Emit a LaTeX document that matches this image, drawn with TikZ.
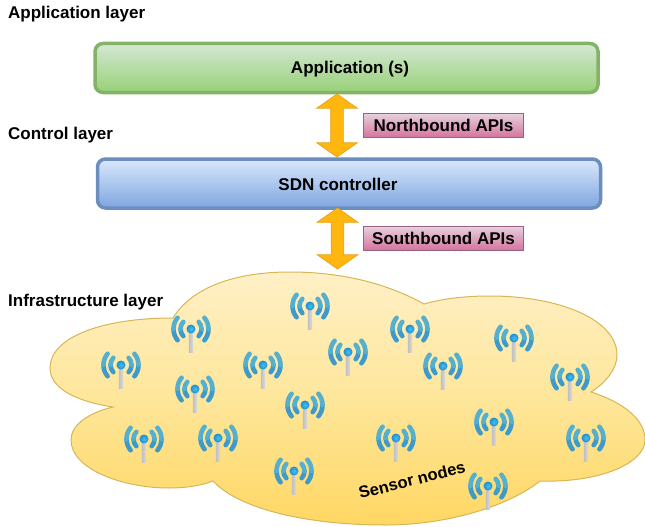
\documentclass[tikz,border=0pt]{standalone}
\usepackage{fontspec}
\setmainfont{Liberation Sans}
\usetikzlibrary{shapes.arrows}
\definecolor{gTop}{HTML}{D5E8D4}\definecolor{gBot}{HTML}{97D077}\definecolor{gLine}{HTML}{82B366}
\definecolor{bTop}{HTML}{DAE8FC}\definecolor{bBot}{HTML}{7EA6E0}\definecolor{bLine}{HTML}{6C8EBF}
\definecolor{pTop}{HTML}{E6D0DE}\definecolor{pBot}{HTML}{D5739D}\definecolor{pLine}{HTML}{996185}
\definecolor{yTop}{HTML}{FFF0C6}\definecolor{yMid}{HTML}{FEE69A}\definecolor{yBot}{HTML}{FFD763}\definecolor{yLine}{HTML}{D6B656}
\definecolor{oFill}{HTML}{FFB60F}\definecolor{oLine}{HTML}{E6A317}
\definecolor{waveA}{HTML}{55B0D0}\definecolor{waveB}{HTML}{3D9ACB}
\definecolor{dotA}{HTML}{45BDF0}\definecolor{dotB}{HTML}{1F8FD0}
\newcommand{\lblfont}{\fontsize{17}{19}\selectfont\bfseries}
\tikzset{
  x=1pt,y=-1pt,
  layerlabel/.style={anchor=west,inner sep=0pt,font=\lblfont},
  boxtext/.style={rounded corners=8pt,line width=3.5pt,minimum height=49pt,inner sep=0pt,outer sep=0pt},
  appbox/.style={boxtext,draw=gLine,top color=gTop,bottom color=gBot},
  ctlbox/.style={boxtext,draw=bLine,top color=bTop,bottom color=bBot},
  apibox/.style={draw=pLine,line width=1pt,top color=pTop,bottom color=pBot,minimum width=160pt,minimum height=24pt,inner sep=0pt,font=\lblfont},
  updown/.style={double arrow,draw=oLine,fill=oFill,line width=.7pt,minimum width=40pt,text height=12pt,text depth=0pt,text width=1pt,double arrow head extend=14pt,double arrow tip angle=110,inner sep=0pt,rotate=90},
  wave/.style={line width=4.6pt,line cap=round},
  sensor/.pic={
    \shade[left color=black!25,right color=black!14] (-2.2,3) rectangle (2.2,23);
    \foreach \s in {1,-1}{
      \begin{scope}[xscale=\s]
      \draw[wave,waveB] (10.5,0) arc[start angle=0,end angle=-43,radius=10.5pt];
      \draw[wave,waveA] (10.5,0) arc[start angle=0,end angle=43,radius=10.5pt];
      \draw[wave,waveB] (17.5,0) arc[start angle=0,end angle=-40,radius=17.5pt];
      \draw[wave,waveA] (17.5,0) arc[start angle=0,end angle=40,radius=17.5pt];
      \end{scope}
    }
    \shade[inner color=dotA,outer color=dotB] (0,0) circle[radius=4.5pt];
  }
}
\begin{document}
\begin{tikzpicture}
\useasboundingbox (0,0) rectangle (645,527);
\shade[top color=yTop,bottom color=yBot,middle color=yMid,draw=yLine,line width=1pt]
  (173,318) .. controls (100,318) and (50,338) .. (50,368)
  .. controls (50,390) and (80,402) .. (113,407)
  .. controls (88,413) and (71,425) .. (71,440)
  .. controls (71,470) and (125,488) .. (168,488)
  .. controls (185,488) and (200,486) .. (213,481)
  .. controls (240,510) and (310,525) .. (385,525)
  .. controls (450,525) and (510,505) .. (540,481)
  .. controls (600,483) and (645,463) .. (645,440)
  .. controls (645,420) and (625,403) .. (591,392)
  .. controls (607,382) and (617,368) .. (617,355)
  .. controls (617,320) and (560,296) .. (490,296)
  .. controls (468,296) and (445,298) .. (424,304)
  .. controls (390,285) and (345,272) .. (290,272)
  .. controls (230,272) and (190,290) .. (173,318) -- cycle;
\foreach \px/\py in {310/306,191/329,410/329,514/338,348/352,263/365,443/366,121/365,570/377,195/389,305/405,494/422,144/439,218/438,396/438,586/438,294/471,488/486}
  \pic at (\px,\py) {sensor};
\node[appbox,minimum width=503pt] (app) at (346.5,68) {};
\node[ctlbox,minimum width=503pt] (ctl) at (349,183.5) {};
\node[font=\lblfont,inner sep=0pt] (apptext) at (350,69.5) {Application (s)};
\node[font=\lblfont,inner sep=0pt] (ctltext) at (338,184) {SDN controller};
\node[updown,minimum height=63pt] (northarrow) at (337,125.5) {};
\node[updown,minimum height=61pt] (southarrow) at (337.5,238.5) {};
\node[apibox] (north) at (443.5,125.5) {\raisebox{-1.5pt}{Northbound APIs}};
\node[apibox] (south) at (443.5,238.5) {\raisebox{-1.5pt}{Southbound APIs}};
\node[layerlabel] (l1) at (8,14.5) {Application layer};
\node[layerlabel] (l2) at (8,135) {Control layer};
\node[layerlabel] (l3) at (8,302) {Infrastructure layer};
\node[rotate=14,font=\fontsize{16.5}{18}\selectfont\bfseries,inner sep=0pt] (sn) at (412,480) {Sensor nodes};
\end{tikzpicture}
\end{document}
